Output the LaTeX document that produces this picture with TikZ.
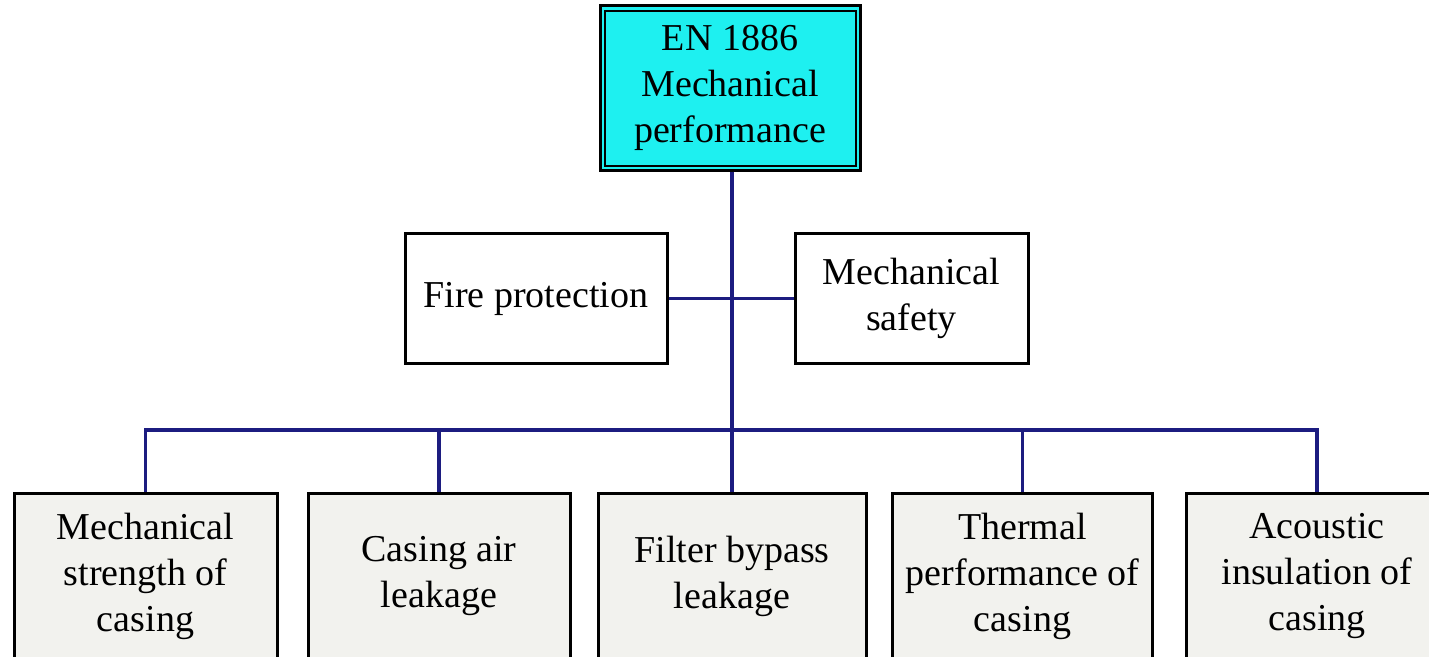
\documentclass[tikz,border=0pt]{standalone}
\usepackage{fontspec}
\setmainfont{Liberation Serif}
\definecolor{linecol}{RGB}{28,28,128}
\definecolor{topfill}{RGB}{30,240,240}
\definecolor{boxfill}{RGB}{242,242,238}
\begin{document}
\begin{tikzpicture}[x=1pt,y=-1pt,
  lbl/.style={font=\fontsize{38}{46}\selectfont, align=center, inner sep=0pt},
  topbox/.style={lbl, draw=black, line width=3pt, fill=topfill, minimum width=260pt, minimum height=165pt},
  midbox/.style={lbl, draw=black, line width=3pt, fill=white, minimum height=130pt},
  botbox/.style={lbl, draw=black, line width=3pt, fill=boxfill, minimum height=167pt},
  conn/.style={draw=linecol, line width=3.3pt}]
\useasboundingbox (0,0) rectangle (1429,656);
\node[topbox] (top) at (730,87.5) {EN 1886\\Mechanical\\performance};
\draw[line width=2pt] ([shift={(6pt,-7pt)}]top.north west) rectangle ([shift={(-6pt,6pt)}]top.south east);
\node[midbox, minimum width=262pt] (fire) at (536,298.5) {Fire protection};
\node[midbox, minimum width=233pt] (safe) at (911.5,298.5) {Mechanical\\safety};
\node[botbox, minimum width=263pt] (b1) at (145.5,576.5) {Mechanical\\strength of\\casing};
\node[botbox, minimum width=262pt] (b2) at (439,576.5) {Casing air\\leakage};
\node[botbox, minimum width=268pt] (b3) at (732,576.5) {Filter bypass\\leakage};
\node[botbox, minimum width=260pt] (b4) at (1022.5,576.5) {Thermal\\performance of\\casing};
\node[botbox, minimum width=262pt] (b5) at (1317,576.5) {Acoustic\\insulation of\\casing};
\coordinate (bus) at (732,430);
\path[conn] (top.south -| b3.north) -- (b3.north);
\path[conn] (fire.east) -- (safe.west);
\path[conn] (b1.north) |- (bus) -| (b5.north);
\path[conn] (b2.north) -- (b2.north |- bus);
\path[conn] (b4.north) -- (b4.north |- bus);
\end{tikzpicture}
\end{document}
